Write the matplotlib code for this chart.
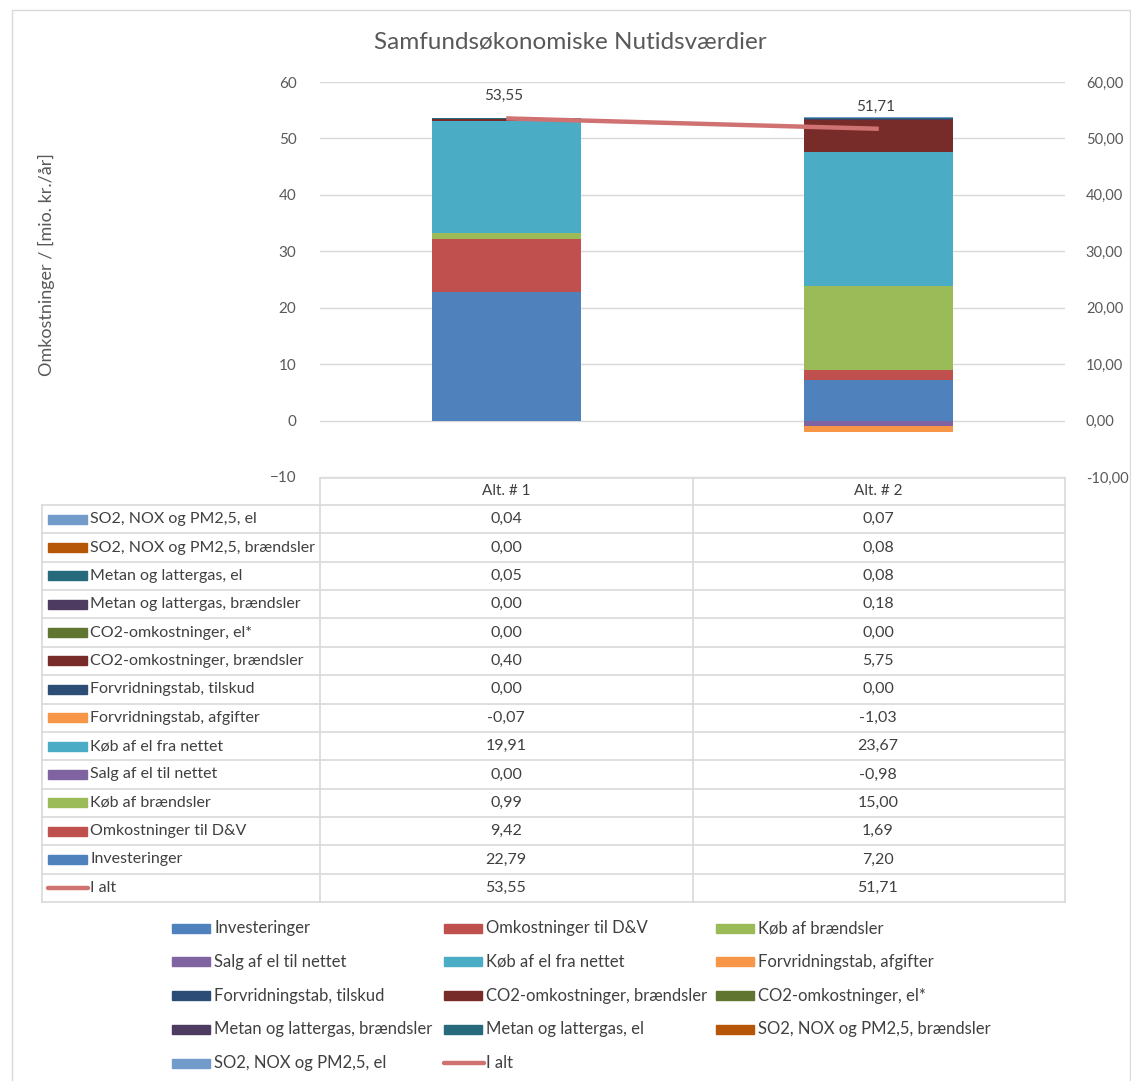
#!/usr/bin/env python3

import numpy as np
import matplotlib
matplotlib.use("Agg")
import matplotlib.pyplot as plt
from matplotlib.patches import Rectangle
from matplotlib.lines import Line2D

plt.rcParams["font.family"] = ["Lato", "DejaVu Sans"]

W, H = 1131, 1081
TEXT = "#595959"
GRID = "#D9D9D9"

alternatives = ["Alt. # 1", "Alt. # 2"]

# series in stacking order (Excel order)
series_names = [
    "Investeringer",
    "Omkostninger til D&V",
    "Køb af brændsler",
    "Salg af el til nettet",
    "Køb af el fra nettet",
    "Forvridningstab, afgifter",
    "Forvridningstab, tilskud",
    "CO2-omkostninger, brændsler",
    "CO2-omkostninger, el*",
    "Metan og lattergas, brændsler",
    "Metan og lattergas, el",
    "SO2, NOX og PM2,5, brændsler",
    "SO2, NOX og PM2,5, el",
]
alt1 = [22.79, 9.42, 0.99, 0.00, 19.91, -0.07, 0.00, 0.40, 0.00, 0.00, 0.05, 0.00, 0.04]
alt2 = [7.20, 1.69, 15.00, -0.98, 23.67, -1.03, 0.00, 5.75, 0.00, 0.18, 0.08, 0.08, 0.07]
total_name = "I alt"
totals = [53.55, 51.71]

colors = [
    "#4F81BD", "#C0504D", "#9BBB59", "#8064A2", "#4BACC6", "#F79646",
    "#2C4D75", "#772C2A", "#5F7530", "#4D3B62", "#276A7C", "#B65708",
    "#729ACA",
]
total_color = "#D07272"


def fx(px):
    return px / W


def fy(py):
    return 1 - py / H


def fmt(v):
    return f"{v:.2f}".replace(".", ",")


def main():
    fig = plt.figure(figsize=(W / 100, H / 100), dpi=100)

    # outer chart frame
    fig.add_artist(Rectangle((fx(12), fy(1085)), fx(1130) - fx(12), fy(10) - fy(1085),
                             transform=fig.transFigure, fill=False, edgecolor=GRID, lw=1))

    x0, x1, ytop, ybot = 320, 1065, 82, 477
    ax = fig.add_axes([fx(x0), fy(ybot), fx(x1) - fx(x0), fy(ytop) - fy(ybot)])
    ax.set_xlim(-0.5, 1.5)
    ax.set_ylim(-10, 60)
    ax.set_yticks(range(-10, 61, 10))
    ax.yaxis.grid(True, color=GRID, lw=1)
    ax.set_axisbelow(True)
    for s in ax.spines.values():
        s.set_visible(False)
    ax.tick_params(length=0, labelsize=11, colors=TEXT, pad=17)
    ax.set_xticks([])

    data = np.array([alt1, alt2]).T
    xs = np.arange(len(alternatives))
    pos_bottom = np.zeros(len(alternatives))
    neg_bottom = np.zeros(len(alternatives))
    for name, vals, c in zip(series_names, data, colors):
        bottoms = np.where(vals >= 0, pos_bottom, neg_bottom)
        ax.bar(xs, vals, 0.4, bottom=bottoms, color=c, label=name, zorder=2)
        pos_bottom += np.where(vals >= 0, vals, 0)
        neg_bottom += np.where(vals < 0, vals, 0)

    ax.plot(xs, totals, color=total_color, lw=3.2, zorder=3, solid_capstyle="butt")
    for x, t in zip(xs, totals):
        ax.annotate(fmt(t), (x, t), xytext=(-2, 11), textcoords="offset points",
                    ha="center", va="bottom", fontsize=11, color="#404040")

    ax2 = ax.twinx()
    ax2.set_ylim(-10, 60)
    ax2.set_yticks(range(-10, 61, 10))
    ax2.set_yticklabels([fmt(v) for v in range(-10, 61, 10)])
    for s in ax2.spines.values():
        s.set_visible(False)
    ax2.tick_params(length=0, labelsize=10.5, colors=TEXT, pad=15)

    fig.text(fx(570), fy(42), "Samfundsøkonomiske Nutidsværdier", ha="center", va="center",
             fontsize=17.5, color=TEXT)
    fig.text(fx(46), fy(265), "Omkostninger / [mio. kr./år]", rotation=90, ha="center",
             va="center", fontsize=13, color=TEXT)

    # data table under the axis
    row_h = (902 - 505) / 14
    line_kw = dict(color=GRID, lw=1.2, transform=fig.transFigure)
    fig.add_artist(Line2D([fx(320), fx(1065)], [fy(478), fy(478)], **line_kw))
    for i in range(15):
        yy = 505 + i * row_h
        fig.add_artist(Line2D([fx(42), fx(1065)], [fy(yy), fy(yy)], **line_kw))
    fig.add_artist(Line2D([fx(42), fx(42)], [fy(505), fy(902)], **line_kw))
    for xx in (320, 693, 1065):
        fig.add_artist(Line2D([fx(xx), fx(xx)], [fy(478), fy(902)], **line_kw))
    for j, alt in enumerate(alternatives):
        fig.text(fx(506 + j * 372), fy(491), alt, ha="center", va="center",
                 fontsize=11, color="#404040")

    rows = list(zip(series_names, colors, alt1, alt2))[::-1]
    rows.append((total_name, None, totals[0], totals[1]))
    for i, (name, c, v1, v2) in enumerate(rows):
        yc = 505 + (i + 0.5) * row_h
        if c is None:
            fig.add_artist(Line2D([fx(48), fx(88)], [fy(yc), fy(yc)], color=total_color,
                                  lw=3.2, solid_capstyle="round", transform=fig.transFigure))
        else:
            fig.add_artist(Rectangle((fx(48), fy(yc + 4.5)), fx(39), fy(yc - 4.5) - fy(yc + 4.5),
                                     transform=fig.transFigure, color=c))
        fig.text(fx(90), fy(yc), name, ha="left", va="center", fontsize=11.5, color="#404040")
        fig.text(fx(506), fy(yc), fmt(v1), ha="center", va="center", fontsize=11.5, color="#404040")
        fig.text(fx(878), fy(yc), fmt(v2), ha="center", va="center", fontsize=11.5, color="#404040")

    # bottom legend
    entries = list(zip(series_names, colors)) + [(total_name, None)]
    for k, (name, c) in enumerate(entries):
        col, row = k % 3, k // 3
        kx = 172 + col * 272
        ky = 928 + row * 33.8
        if c is None:
            fig.add_artist(Line2D([fx(kx), fx(kx + 40)], [fy(ky), fy(ky)], color=total_color,
                                  lw=3.2, solid_capstyle="round", transform=fig.transFigure))
        else:
            fig.add_artist(Rectangle((fx(kx), fy(ky + 4.5)), fx(38), fy(ky - 4.5) - fy(ky + 4.5),
                                     transform=fig.transFigure, color=c))
        fig.text(fx(kx + 42), fy(ky), name, ha="left", va="center", fontsize=12, color="#404040")

    plt.savefig("out.png", dpi=100)
    plt.close()


if __name__ == "__main__":
    main()
